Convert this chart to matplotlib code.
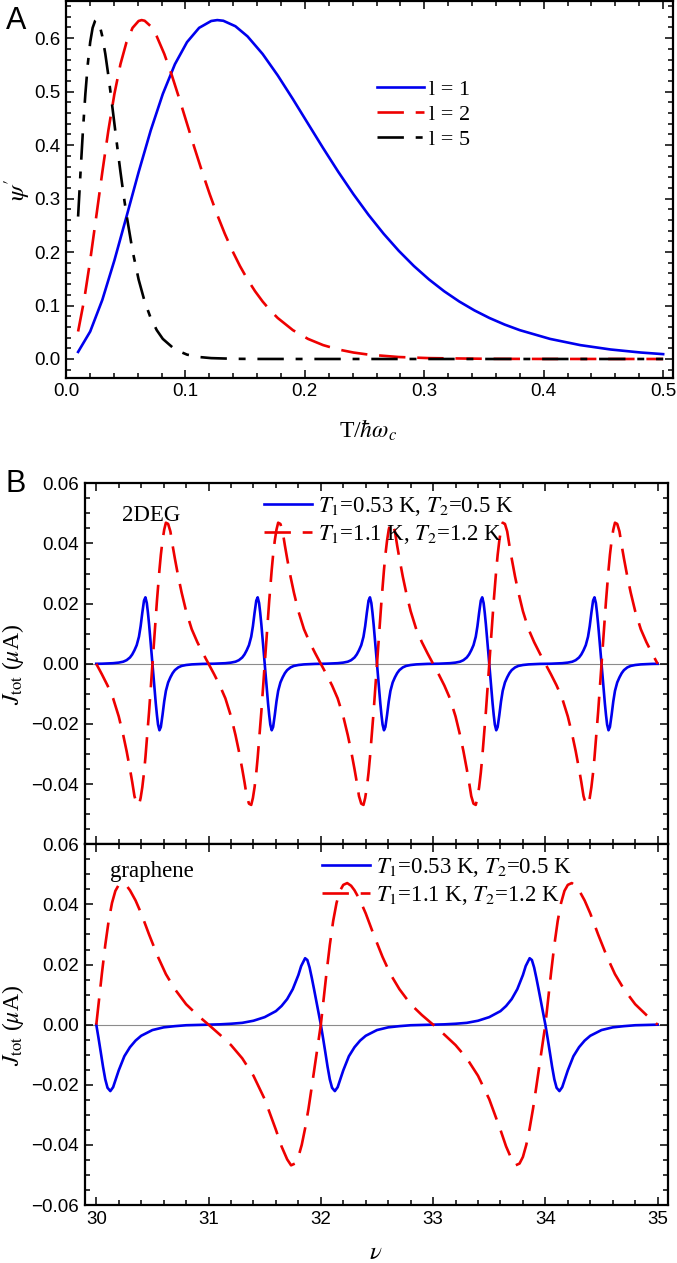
import matplotlib
matplotlib.use("Agg")
import matplotlib.pyplot as plt
from matplotlib.ticker import MultipleLocator, FuncFormatter

plt.rcParams['font.family'] = ['Liberation Sans', 'DejaVu Sans']
plt.rcParams['mathtext.fontset'] = 'stix'
plt.rcParams['lines.scale_dashes'] = False

# ---- panel A: psi' vs T/(hbar omega_c) ----
t_l1 = [0.01013, 0.02026, 0.03040, 0.04053, 0.05066, 0.06079, 0.07092, 0.08106, 0.09119,
        0.10132, 0.11145, 0.12158, 0.12665, 0.13172, 0.14185, 0.15198, 0.16465, 0.17731,
        0.18998, 0.20264, 0.21531, 0.22797, 0.24064, 0.25330, 0.26597, 0.27863, 0.29130,
        0.30396, 0.31663, 0.32929, 0.34196, 0.35462, 0.36729, 0.37995, 0.40529, 0.43062,
        0.45595, 0.48128, 0.5]
psi_l1 = [0.01321, 0.05139, 0.11047, 0.18444, 0.26637, 0.34935, 0.42735, 0.49570, 0.55130,
          0.59259, 0.61931, 0.63216, 0.63383, 0.63259, 0.62234, 0.60339, 0.57040, 0.53029,
          0.48606, 0.44012, 0.39434, 0.35009, 0.30830, 0.26956, 0.23419, 0.20231, 0.17386,
          0.14873, 0.12669, 0.10749, 0.09089, 0.07660, 0.06436, 0.05393, 0.03757, 0.02594,
          0.01777, 0.01209, 0.00905]

t_l2 = [0.01013, 0.01520, 0.02026, 0.02533, 0.03040, 0.03546, 0.04053, 0.04559, 0.05066,
        0.05573, 0.06079, 0.06333, 0.06586, 0.07092, 0.07599, 0.08232, 0.08866, 0.09499,
        0.10132, 0.10765, 0.11399, 0.12032, 0.12665, 0.13298, 0.13932, 0.14565, 0.15198,
        0.15832, 0.16465, 0.17098, 0.17731, 0.18998, 0.20264, 0.21531, 0.22797, 0.24064,
        0.25330, 0.27863, 0.30396, 0.35462, 0.40529, 0.5]
psi_l2 = [0.05139, 0.11047, 0.18444, 0.26637, 0.34935, 0.42735, 0.49570, 0.55130, 0.59259,
          0.61931, 0.63216, 0.63383, 0.63259, 0.62234, 0.60339, 0.57040, 0.53029, 0.48606,
          0.44012, 0.39434, 0.35009, 0.30830, 0.26956, 0.23419, 0.20231, 0.17386, 0.14873,
          0.12669, 0.10749, 0.09089, 0.07660, 0.05393, 0.03757, 0.02594, 0.01777, 0.01209,
          0.00817, 0.00367, 0.00162, 0.00030, 0.00005, 0.0]

t_l5 = [0.01013, 0.01216, 0.01418, 0.01621, 0.01824, 0.02026, 0.02229, 0.02432, 0.02533,
        0.02634, 0.02837, 0.03040, 0.03293, 0.03546, 0.03800, 0.04053, 0.04306, 0.04559,
        0.04813, 0.05066, 0.05573, 0.06079, 0.06586, 0.07092, 0.07599, 0.08106, 0.09119,
        0.10132, 0.11145, 0.12158, 0.14185, 0.16212, 0.20264, 0.5]
psi_l5 = [0.26637, 0.34935, 0.42735, 0.49570, 0.55130, 0.59259, 0.61931, 0.63216, 0.63383,
          0.63259, 0.62234, 0.60339, 0.57040, 0.53029, 0.48606, 0.44012, 0.39434, 0.35009,
          0.30830, 0.26956, 0.20231, 0.14873, 0.10749, 0.07660, 0.05393, 0.03757, 0.01777,
          0.00817, 0.00367, 0.00162, 0.00030, 0.00005, 0.0, 0.0]

# ---- panel B: J_tot vs nu, one period of each curve ----
# 2DEG: period 1, features centred on half-integer filling
deg_centers = [30.5, 31.5, 32.5, 33.5, 34.5]
deg_offset = [-0.5, -0.45, -0.4, -0.35, -0.3, -0.26, -0.23, -0.2, -0.18, -0.16, -0.14,
              -0.12, -0.105, -0.09, -0.075, -0.0625, -0.05, -0.04, -0.03, -0.02, -0.01,
              0.0, 0.01, 0.02, 0.03, 0.04, 0.05, 0.0625, 0.075, 0.09, 0.105, 0.12, 0.14,
              0.16, 0.18, 0.2, 0.23, 0.26, 0.3, 0.35, 0.4, 0.45, 0.5]
deg_blue = [0.0, 0.00003, 0.0001, 0.0002, 0.0004, 0.0007, 0.0012, 0.0021, 0.0031, 0.0045,
            0.0062, 0.0090, 0.0125, 0.0170, 0.0210, 0.0221, 0.0202, 0.0170, 0.0132, 0.0090,
            0.0045, 0.0, -0.0045, -0.0090, -0.0132, -0.0170, -0.0202, -0.0221, -0.0210,
            -0.0170, -0.0125, -0.0090, -0.0062, -0.0045, -0.0031, -0.0021, -0.0012, -0.0007,
            -0.0004, -0.0002, -0.0001, -0.00003, 0.0]
deg_red = [0.0, -0.0035, -0.0072, -0.0115, -0.0175, -0.0237, -0.0290, -0.0350, -0.0393,
           -0.0440, -0.0465, -0.0469, -0.0446, -0.0410, -0.0362, -0.0312, -0.0255, -0.0208,
           -0.0160, -0.0107, -0.0053, 0.0, 0.0053, 0.0107, 0.0160, 0.0208, 0.0255, 0.0312,
           0.0362, 0.0410, 0.0446, 0.0469, 0.0465, 0.0440, 0.0393, 0.0350, 0.0290, 0.0237,
           0.0175, 0.0115, 0.0072, 0.0035, 0.0]

# graphene: period 2, features centred on even filling
gr_centers = [30, 32, 34]
gr_blue_offset = [-1.0, -0.9, -0.8, -0.7, -0.6, -0.5, -0.4, -0.35, -0.3, -0.25, -0.2, -0.175,
                  -0.14, -0.12, -0.1, -0.08, -0.06, -0.04, -0.02, 0.0, 0.02, 0.04, 0.06, 0.08,
                  0.1, 0.125, 0.15, 0.175, 0.2, 0.25, 0.3, 0.35, 0.4, 0.5, 0.6, 0.7, 0.8, 0.9, 1.0]
gr_blue = [0.0, 0.0001, 0.0003, 0.0006, 0.0013, 0.0025, 0.0045, 0.0062, 0.0085, 0.0118,
           0.0165, 0.0195, 0.0221, 0.0215, 0.0190, 0.0155, 0.0117, 0.0078, 0.0039, 0.0,
           -0.0045, -0.0092, -0.0140, -0.0182, -0.0210, -0.0221, -0.0208, -0.0180, -0.0152,
           -0.0105, -0.0075, -0.0053, -0.0037, -0.0018, -0.0009, -0.0005, -0.0002, -0.0001, 0.0]
gr_red_offset = [-1.0, -0.9, -0.8, -0.7, -0.6, -0.5, -0.4, -0.35, -0.3, -0.265, -0.23, -0.2,
                 -0.17, -0.14, -0.11, -0.08, -0.05, -0.025, 0.0, 0.025, 0.05, 0.08, 0.11, 0.14,
                 0.17, 0.2, 0.235, 0.27, 0.3, 0.35, 0.4, 0.47, 0.55, 0.62, 0.7, 0.8, 0.9, 1.0]
gr_red = [0.0, -0.0033, -0.0068, -0.0112, -0.0170, -0.0248, -0.0350, -0.0405, -0.0448, -0.0468,
          -0.0462, -0.0440, -0.0400, -0.0345, -0.0280, -0.0205, -0.0128, -0.0064, 0.0, 0.0085,
          0.0170, 0.0265, 0.0345, 0.0405, 0.0445, 0.0465, 0.0471, 0.0462, 0.0447, 0.0413,
          0.0370, 0.0300, 0.0225, 0.0168, 0.0118, 0.0068, 0.0032, 0.0]

nu_range = (30, 35)
lab_cold = '$T_1$=0.53 K, $T_2$=0.5 K'
lab_warm = '$T_1$=1.1 K, $T_2$=1.2 K'

BLUE = '#0000ee'
RED = '#ee0000'
SERIF = 'Liberation Serif'
LW = 1.9
W, H = 677, 1263


def periodic(centers, offsets, values, lo, hi):
    xs, ys = [], []
    for c in centers:
        for d, v in zip(offsets, values):
            if lo - 1e-9 <= c + d <= hi + 1e-9:
                xs.append(c + d)
                ys.append(v)
    return xs, ys


def fr(left, top, right, bottom):
    return [left / W, 1 - bottom / H, (right - left) / W, (bottom - top) / H]


def style(ax, labelbottom=True):
    for s in ax.spines.values():
        s.set_linewidth(1.6)
    ax.tick_params(which='both', direction='in', top=True, right=True,
                   labelsize=13.5, width=1.1, labelbottom=labelbottom)
    ax.tick_params(which='major', length=6, pad=4)
    ax.tick_params(which='minor', length=3.5)
    for axis in (ax.xaxis, ax.yaxis):
        for t in axis.get_major_ticks() + axis.get_minor_ticks():
            t.tick2line.set_color('#b5b5b5')


def minus(fmt, hide_below=None):
    def f(v, pos):
        if hide_below is not None and v < hide_below:
            return ''
        s = fmt % v
        if s.startswith('-') and float(s) == 0:
            s = s[1:]
        return s.replace('-', '\u2212')
    return FuncFormatter(f)


fig = plt.figure(figsize=(W / 100, H / 100), dpi=100)

# ---- A ----
axA = fig.add_axes(fr(66, 1.5, 673.3, 377.7))
axA.plot(t_l1, psi_l1, color=BLUE, lw=LW, label='l = 1')
axA.plot(t_l2, psi_l2, color=RED, lw=LW, dashes=(19, 8.5), label='l = 2')
axA.plot(t_l5, psi_l5, color='black', lw=LW, dashes=(19, 8.5, 5, 8.5), label='l = 5')
axA.set_xlim(0, 0.5085)
axA.set_ylim(-0.035, 0.6686)
axA.xaxis.set_major_locator(MultipleLocator(0.1))
axA.xaxis.set_minor_locator(MultipleLocator(0.02))
axA.yaxis.set_major_locator(MultipleLocator(0.1))
axA.yaxis.set_minor_locator(MultipleLocator(0.02))
axA.xaxis.set_major_formatter(minus('%.1f'))
axA.yaxis.set_major_formatter(minus('%.1f'))
style(axA)
axA.legend(loc='upper left', bbox_to_anchor=(377 / W, 1 - 79 / H),
           bbox_transform=fig.transFigure, frameon=False,
           prop={'family': SERIF, 'size': 16}, handlelength=2.1,
           handletextpad=0.25, labelspacing=0.2, borderpad=0, borderaxespad=0)

fig.text(6 / W, 1 - 29 / H, 'A', fontsize=22, va='baseline')
fig.text(17 / W, 1 - 190 / H, r"$\psi'$", fontsize=18, rotation=90,
         ha='center', va='center')
fig.text(368 / W, 1 - 430 / H, r'T/$\hbar\omega_c$', family=SERIF, fontsize=17,
         ha='center', va='center')

# ---- B ----
axB1 = fig.add_axes(fr(84.5, 483.3, 668.3, 844.3))
axB2 = fig.add_axes(fr(84.5, 844.3, 668.3, 1205))

x, y = periodic(deg_centers, deg_offset, deg_blue, *nu_range)
axB1.plot(x, y, color=BLUE, lw=LW, label=lab_cold)
x, y = periodic(deg_centers, deg_offset, deg_red, *nu_range)
axB1.plot(x, y, color=RED, lw=LW, dashes=(19, 8.5), label=lab_warm)

x, y = periodic(gr_centers, gr_blue_offset, gr_blue, *nu_range)
axB2.plot(x, y, color=BLUE, lw=LW, label=lab_cold)
x, y = periodic(gr_centers, gr_red_offset, gr_red, *nu_range)
axB2.plot(x, y, color=RED, lw=LW, dashes=(19, 8.5), label=lab_warm)

for ax, hide in ((axB1, -0.059), (axB2, None)):
    ax.axhline(0, color='#8c8c8c', lw=0.8, zorder=0)
    ax.set_xlim(29.895, 35.095)
    ax.set_ylim(-0.06, 0.06)
    ax.xaxis.set_major_locator(MultipleLocator(1))
    ax.xaxis.set_minor_locator(MultipleLocator(0.2))
    ax.yaxis.set_major_locator(MultipleLocator(0.02))
    ax.yaxis.set_minor_locator(MultipleLocator(0.005))
    ax.yaxis.set_major_formatter(minus('%.2f', hide))
    ax.xaxis.set_major_formatter(minus('%d'))
style(axB1, labelbottom=False)
style(axB2)
for t in axB1.xaxis.get_major_ticks() + axB1.xaxis.get_minor_ticks():
    t.tick1line.set_color('black')

axB1.legend(loc='upper left', bbox_to_anchor=(264 / W, 1 - 495 / H),
            bbox_transform=fig.transFigure, frameon=False,
            prop={'family': SERIF, 'size': 16.5}, handlelength=2.1,
            handletextpad=0.25, labelspacing=0.2, borderpad=0, borderaxespad=0)
axB2.legend(loc='upper left', bbox_to_anchor=(322 / W, 1 - 856 / H),
            bbox_transform=fig.transFigure, frameon=False,
            prop={'family': SERIF, 'size': 16.5}, handlelength=2.1,
            handletextpad=0.25, labelspacing=0.2, borderpad=0, borderaxespad=0)

fig.text(122 / W, 1 - 521 / H, '2DEG', family=SERIF, fontsize=16.5, va='baseline')
fig.text(110 / W, 1 - 877 / H, 'graphene', family=SERIF, fontsize=16.5, va='baseline')
fig.text(6 / W, 1 - 492 / H, 'B', fontsize=22, va='baseline')
for yc in (664, 1025):
    fig.text(13 / W, 1 - yc / H, r'$J_{\rm tot}$ ($\mu$A)', family=SERIF, fontsize=17,
             rotation=90, ha='center', va='center')
fig.text(376 / W, 1 - 1259 / H, r'$\nu$', fontsize=18, ha='center', va='baseline')

fig.savefig('out.png', dpi=100)
